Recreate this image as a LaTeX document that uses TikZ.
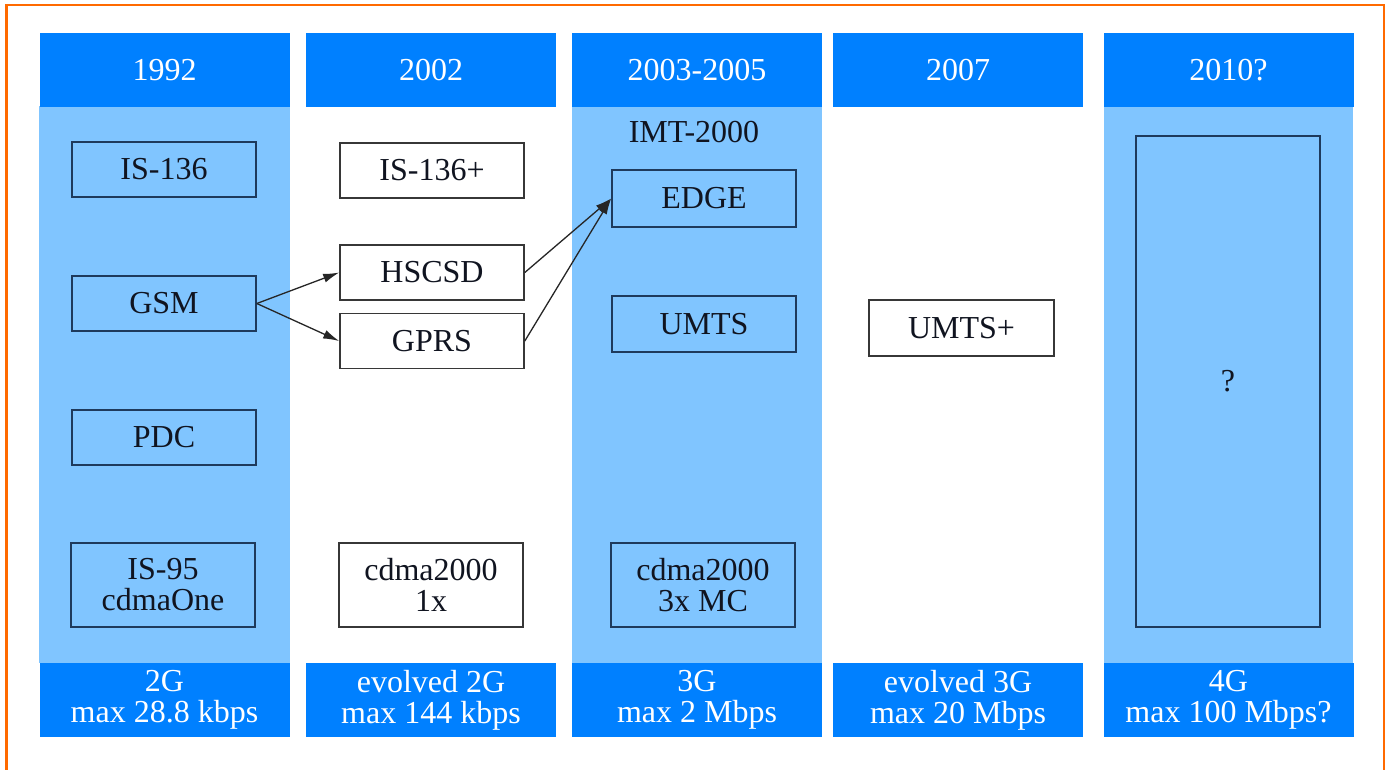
\documentclass[tikz,border=0pt]{standalone}
\usepackage{fontspec}
\setmainfont{Liberation Serif}
\newfontfamily\labelface{Liberation Serif}
\usetikzlibrary{arrows.meta}
\definecolor{hdrblue}{RGB}{0,128,255}
\definecolor{bodyblue}{RGB}{128,197,255}
\definecolor{frameorange}{RGB}{255,106,0}
\definecolor{navyline}{RGB}{30,58,92}
\definecolor{grayline}{RGB}{55,55,55}
\definecolor{inktext}{RGB}{16,20,32}
\begin{document}
\begin{tikzpicture}[x=0.5pt,y=-0.5pt,
  every node/.style={font=\labelface\fontsize{16}{15.5}\selectfont},
  band/.style={fill=hdrblue, text=white, minimum width=125pt, minimum height=37pt,
    inner sep=0pt, align=center},
  tech/.style={draw, line width=0.8pt, minimum width=92pt, minimum height=27.5pt,
    inner sep=0pt, align=center, text=inktext},
  onblue/.style={tech, draw=navyline, fill=bodyblue},
  onwhite/.style={tech, draw=grayline, fill=white},
  tall/.style={minimum height=42pt},
  link/.style={draw=black!85, line width=0.65pt, -{Latex[length=8pt,width=4.5pt]}}
]
% canvas
\useasboundingbox[fill=white] (0,0) rectangle (1387,770);

% outer frame, open at the bottom
\draw[frameorange, line width=1.1pt] (6.5,770) -- (6.5,5) -- (1384,5) -- (1384,770);

% shaded column bodies
\fill[bodyblue] (39,106) rectangle (290,663);
\fill[bodyblue] (572,106) rectangle (822,663);
\fill[bodyblue] (1104,106) rectangle (1353,663);

% year headers
\node[band] (h1) at (164.5,70) {1992};
\node[band] (h2) at (431,70) {2002};
\node[band] (h3) at (697,70) {2003-2005};
\node[band] (h4) at (958,70) {2007};
\node[band] (h5) at (1228.5,70) {2010?};

% generation footers
\node[band] (f1) at (164.5,700) {2G\\max 28.8 kbps};
\node[band] (f2) at (431,700) {evolved 2G\\max 144 kbps};
\node[band] (f3) at (697,700) {3G\\max 2 Mbps};
\node[band] (f4) at (958,700) {evolved 3G\\max 20 Mbps};
\node[band] (f5) at (1228.5,700) {4G\\max 100 Mbps?};

% 1992
\node[onblue] (is136) at (164,169.5) {IS-136};
\node[onblue] (gsm) at (164,303.5) {GSM};
\node[onblue] (pdc) at (164,437.5) {PDC};
\node[onblue, tall] (is95) at (163,585) {IS-95\\cdmaOne};

% 2002
\node[onwhite] (is136p) at (432,170.5) {IS-136+};
\node[onwhite] (hscsd) at (432,272.5) {HSCSD};
\node[onwhite] (gprs) at (432,341) {GPRS};
\node[onwhite, tall] (cdma1x) at (431,585) {cdma2000\\1x};

% 2003-2005
\node[text=inktext] (imt) at (694,132) {IMT-2000};
\node[onblue, minimum height=28.5pt] (edge) at (704,198.5) {EDGE};
\node[onblue, minimum height=28pt] (umts) at (704,324) {UMTS};
\node[onblue, tall] (cdma3x) at (703,585) {cdma2000\\3x MC};

% 2007
\node[onwhite, minimum width=92.5pt, minimum height=28pt] (umtsp) at (961.5,328) {UMTS+};

% 2010?
\node[onblue, minimum height=245.5pt] (fourg) at (1228,381.5) {?};

% evolution paths
\draw[link] (gsm.east) -- (hscsd.west);
\draw[link] (gsm.east) -- (gprs.west);
\draw[link] (hscsd.east) -- (edge.west);
\draw[link] (gprs.east) -- (edge.west);
\end{tikzpicture}
\end{document}
